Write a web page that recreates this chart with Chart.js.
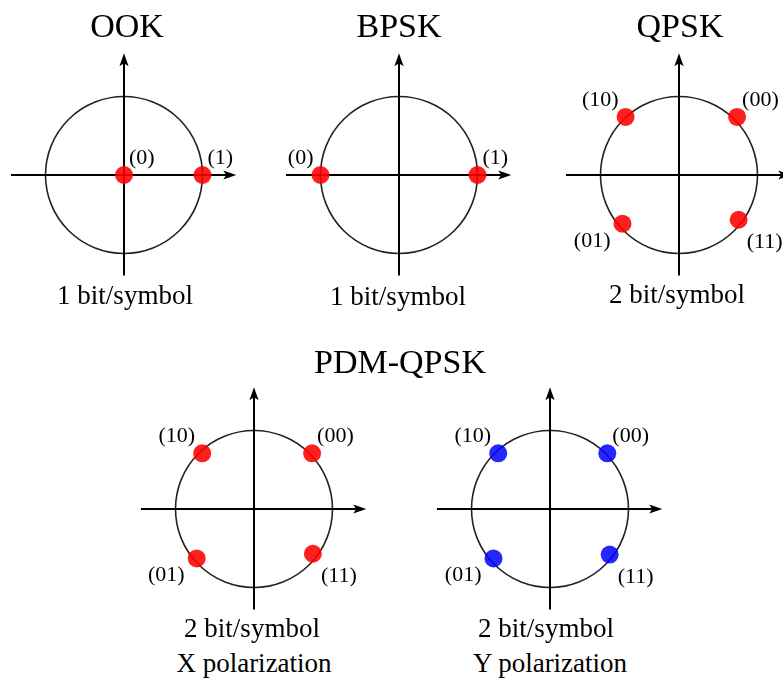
<!DOCTYPE html>
<html><head><meta charset="utf-8">
<script src="https://cdn.jsdelivr.net/npm/chart.js@4/dist/chart.umd.min.js"></script>
<style>
html,body{margin:0;padding:0;background:#fff;overflow:hidden;width:783px;height:678px;}
#root{position:relative;width:783px;height:678px;overflow:hidden;background:#fff;}
#root canvas{position:absolute;}
.t{position:absolute;font-family:"Liberation Serif","Times New Roman",serif;color:#000;white-space:nowrap;transform:translateX(-50%);}
</style></head><body><div id="root"></div>
<script>
// ---- Data (I / Q coordinates of constellation points) ----
const ookLabels  = ['(0)', '(1)'];
const ookI       = [0, 1];
const ookQ       = [0, 0];

const bpskLabels = ['(0)', '(1)'];
const bpskI      = [-1, 1];
const bpskQ      = [0, 0];

const qpskLabels = ['(10)', '(00)', '(01)', '(11)'];
const qpskI      = [-0.68, 0.74, -0.72, 0.76];
const qpskQ      = [0.74, 0.74, -0.62, -0.57];

const pdmXLabels = ['(10)', '(00)', '(01)', '(11)'];
const pdmXI      = [-0.66, 0.74, -0.73, 0.75];
const pdmXQ      = [0.71, 0.71, -0.63, -0.57];

const pdmYLabels = ['(10)', '(00)', '(01)', '(11)'];
const pdmYI      = [-0.66, 0.73, -0.72, 0.76];
const pdmYQ      = [0.71, 0.71, -0.63, -0.58];

const panelTitles   = ['OOK', 'BPSK', 'QPSK'];
const groupTitle    = 'PDM-QPSK';
const bitsCaptions  = ['1 bit/symbol', '1 bit/symbol', '2 bit/symbol', '2 bit/symbol', '2 bit/symbol'];
const polCaptions   = ['X polarization', 'Y polarization'];

// ---- Layout / style ----
const U = 78.5;                       // pixels per unit amplitude
const AX = {left:-1.44, right:1.43, top:1.55, bottom:-1.28};
const RED = 'rgba(255,0,0,0.88)';
const BLUE = 'rgba(0,0,255,0.85)';
const SERIF = '"Liberation Serif","Times New Roman",serif';

const panels = [
  {cx:124, cy:175, labels:ookLabels,  I:ookI,  Q:ookQ,  color:RED},
  {cx:399, cy:175, labels:bpskLabels, I:bpskI, Q:bpskQ, color:RED},
  {cx:679, cy:175, labels:qpskLabels, I:qpskI, Q:qpskQ, color:RED},
  {cx:254, cy:509, labels:pdmXLabels, I:pdmXI, Q:pdmXQ, color:RED},
  {cx:550, cy:509, labels:pdmYLabels, I:pdmYI, Q:pdmYQ, color:BLUE},
];

function arrowHead(ctx, x, y, dir){
  const L = 13, W = 4.6, N = 3;
  ctx.beginPath();
  if (dir === 'right'){
    ctx.moveTo(x, y); ctx.lineTo(x - L, y - W); ctx.lineTo(x - L + N, y); ctx.lineTo(x - L, y + W);
  } else {
    ctx.moveTo(x, y); ctx.lineTo(x - W, y + L); ctx.lineTo(x, y + L - N); ctx.lineTo(x + W, y + L);
  }
  ctx.closePath(); ctx.fill();
}

const constellationPlugin = {
  id: 'constellation',
  beforeDatasetsDraw(chart){
    const {ctx, scales:{x, y}} = chart;
    const x0 = x.getPixelForValue(0), y0 = y.getPixelForValue(0);
    const r = x.getPixelForValue(1) - x0;
    ctx.save();
    ctx.strokeStyle = '#222'; ctx.lineWidth = 1.6;
    ctx.beginPath(); ctx.arc(x0, y0, r, 0, Math.PI * 2); ctx.stroke();
    const xl = x.getPixelForValue(AX.left), xr = x.getPixelForValue(AX.right);
    const yt = y.getPixelForValue(AX.top), yb = y.getPixelForValue(AX.bottom);
    ctx.strokeStyle = '#000'; ctx.fillStyle = '#000'; ctx.lineWidth = 2;
    ctx.beginPath();
    ctx.moveTo(xl, y0); ctx.lineTo(xr - 9, y0);
    ctx.moveTo(x0, yb); ctx.lineTo(x0, yt + 9);
    ctx.stroke();
    arrowHead(ctx, xr, y0, 'right');
    arrowHead(ctx, x0, yt, 'up');
    ctx.restore();
  },
  afterDatasetsDraw(chart){
    const {ctx} = chart;
    ctx.save();
    ctx.font = '22px ' + SERIF;
    ctx.fillStyle = '#000';
    ctx.textBaseline = 'alphabetic';
    chart.data.datasets.forEach((ds, di) => {
      const meta = chart.getDatasetMeta(di);
      meta.data.forEach((pt, i) => {
        const v = ds.data[i];
        const txt = ds.pointLabels[i];
        const right = v.x >= 0;
        const above = v.y >= 0;
        ctx.textAlign = right ? 'left' : 'right';
        let dx, dy;
        if (above) { dx = right ? 5 : -7; dy = -11; }
        else       { dx = right ? 8 : -12; dy = right ? 28 : 23; }
        ctx.fillText(txt, pt.x + dx, pt.y + dy);
      });
    });
    ctx.restore();
  }
};

const root = document.getElementById('root');
const CW = 270, CH = 260, CL = 135, CT = 135;

panels.forEach(p => {
  const cv = document.createElement('canvas');
  cv.width = CW; cv.height = CH;
  cv.style.left = (p.cx - CL) + 'px';
  cv.style.top = (p.cy - CT) + 'px';
  cv.style.width = CW + 'px'; cv.style.height = CH + 'px';
  root.appendChild(cv);
  new Chart(cv.getContext('2d'), {
    type: 'scatter',
    data: {
      datasets: [{
        data: p.I.map((v, i) => ({x: v, y: p.Q[i]})),
        pointLabels: p.labels,
        backgroundColor: p.color,
        borderWidth: 0,
        pointRadius: 9,
        pointHoverRadius: 9,
        clip: false
      }]
    },
    options: {
      responsive: false,
      animation: false,
      devicePixelRatio: 1,
      layout: {padding: 0, autoPadding: false},
      events: [],
      plugins: {legend: {display: false}, tooltip: {enabled: false}},
      scales: {
        x: {type: 'linear', display: false, min: -CL / U, max: (CW - CL) / U},
        y: {type: 'linear', display: false, min: -(CH - CT) / U, max: CT / U}
      }
    },
    plugins: [constellationPlugin]
  });
});

// ---- Text (HTML) ----
function addText(txt, cx, baseline, size){
  const d = document.createElement('div');
  d.className = 't';
  d.textContent = txt;
  d.style.fontSize = size + 'px';
  d.style.lineHeight = size + 'px';
  d.style.left = cx + 'px';
  d.style.top = (baseline - 0.8375 * size) + 'px';
  root.appendChild(d);
}
addText(panelTitles[0], 127, 37, 34);
addText(panelTitles[1], 399, 37, 34);
addText(panelTitles[2], 680, 37, 34);
addText(groupTitle, 400, 373, 34);
addText(bitsCaptions[0], 125, 305, 27);
addText(bitsCaptions[1], 398, 306, 27);
addText(bitsCaptions[2], 677, 304, 27);
addText(bitsCaptions[3], 252, 638, 27);
addText(bitsCaptions[4], 546, 638, 27);
addText(polCaptions[0], 254, 673, 27);
addText(polCaptions[1], 550, 673, 27);
</script>
</body></html>
